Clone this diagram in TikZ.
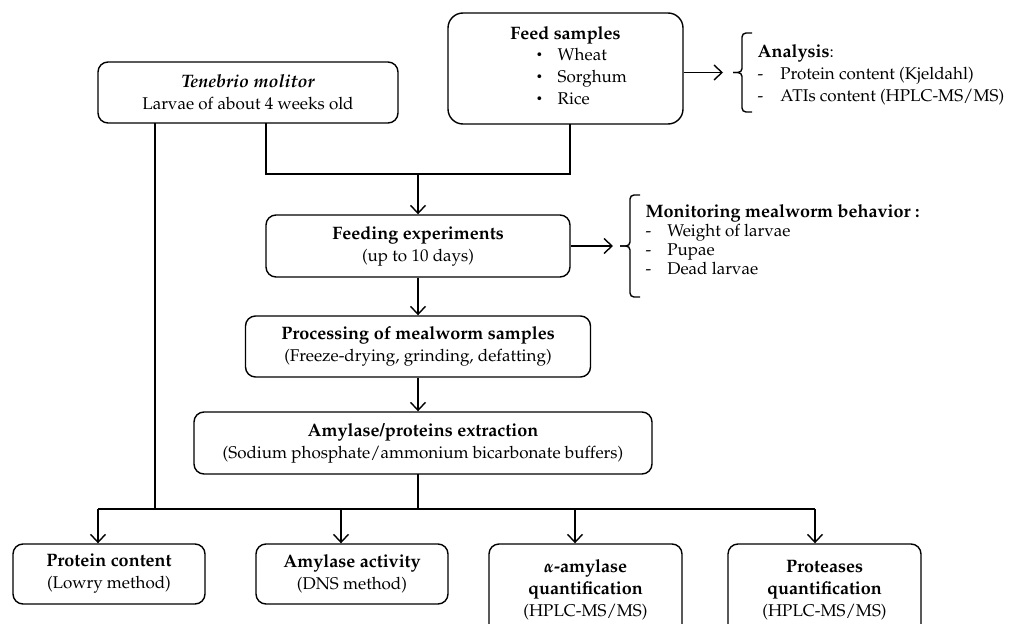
\documentclass[tikz,border=0pt]{standalone}
\usepackage[T1]{fontenc}
\usepackage{mathpazo}
\usetikzlibrary{arrows.meta}
\newcommand{\bx}[1]{{\bfseries\fontsize{18}{22}\selectfont #1}}
\newcommand{\smbul}{\raisebox{1.5pt}{\fontsize{11}{11}\selectfont\textbullet}}
\begin{document}
\begin{tikzpicture}[x=1pt,y=-1pt,
  font=\fontsize{17}{22}\selectfont,
  line width=1.4pt,
  box/.style={draw, rounded corners=10pt, align=center, inner sep=0pt},
  arr/.style={-{Straight Barb[length=8pt,width=15pt,line width=1.4pt]}},
  brk/.style={rounded corners=4pt}]
\useasboundingbox (0,0) rectangle (1016,623);

% boxes
\node[box, minimum width=300pt, minimum height=61pt] (ten) at (248,92.5)
  {\bx{\itshape Tenebrio molitor}\\Larvae of about 4 weeks old};
\node[box, rounded corners=15pt, minimum width=235pt, minimum height=111pt] (feed) at (565.5,68.5)
  {\bx{Feed samples}\\\hspace*{32pt}\begin{tabular}{@{}l@{\hspace{15pt}}l@{}}\smbul & Wheat\\ \smbul & Sorghum\\ \smbul & Rice\end{tabular}};
\node[box, minimum width=304pt, minimum height=62pt] (fexp) at (418,246)
  {\bx{Feeding experiments}\\(up to 10 days)};
\node[box, minimum width=345pt, minimum height=61pt] (proc) at (418,346.5)
  {\bx{Processing of mealworm samples}\\(Freeze-drying, grinding, defatting)};
\node[box, minimum width=458pt, minimum height=62pt] (extr) at (423,443)
  {\bx{Amylase/proteins extraction}\\(Sodium phosphate/ammonium bicarbonate buffers)};
\node[box, minimum width=192pt, minimum height=60pt] (prot) at (109,574)
  {\bx{Protein content}\\(Lowry method)};
\node[box, minimum width=192pt, minimum height=60pt] (amyl) at (352,574)
  {\bx{Amylase activity}\\(DNS method)};
\node[box, minimum width=193pt, minimum height=92pt] (alpha) at (585.5,590)
  {\bx{\boldmath$\alpha$-amylase}\\\bx{quantification}\\(HPLC-MS/MS)};
\node[box, minimum width=193pt, minimum height=92pt] (prts) at (824.5,590)
  {\bx{Proteases}\\\bx{quantification}\\(HPLC-MS/MS)};

% side notes
\node[anchor=west, inner sep=0pt] (ana) at (757,75)
  {\begin{tabular}{@{}l@{\hspace{17pt}}l@{}}\multicolumn{2}{@{}l}{\bx{Analysis}:}\\ -&Protein content (Kjeldahl)\\ -&ATIs content (HPLC-MS/MS)\end{tabular}};
\node[anchor=west, inner sep=0pt, font=\fontsize{17}{19}\selectfont] (mon) at (645,242.5)
  {\begin{tabular}{@{}l@{\hspace{16pt}}l@{}}\multicolumn{2}{@{}l}{{\bfseries\fontsize{18}{19}\selectfont Monitoring mealworm behavior :}}\\ -&Weight of larvae\\ -&Pupae\\ -&Dead larvae\end{tabular}};

% brackets
\coordinate (bA) at (733,72.5);
\coordinate (bM) at (620,246);
\draw[brk] (752,33) -- (742,33) -- (742,72.5) -- (bA);
\draw[brk] (752,112) -- (742,112) -- (742,72.5) -- (bA);
\draw[brk] (640,195) -- (630,195) -- (630,246) -- (bM);
\draw[brk] (640,297) -- (630,297) -- (630,246) -- (bM);

% connectors
\coordinate (tA) at (723,72.5);
\coordinate (tM) at (613,246);
\draw[arr] (feed.east |- tA) -- (tA);
\draw[arr] (fexp.east) -- (tM);

\coordinate (j0) at (418,174);
\draw (266,123) -- (266,174) -- (570,174) -- (570,124);
\draw[arr] (j0) -- (j0 |- fexp.north);
\draw[arr] (fexp.south) -- (fexp.south |- proc.north);
\draw[arr] (proc.south) -- (proc.south |- extr.north);

\coordinate (h1) at (98,509);
\coordinate (h2) at (341,509);
\coordinate (h3) at (575,509);
\coordinate (h4) at (815,509);
\draw (155,123) -- (155,509);
\draw (418,474) -- (418,509);
\draw (h1) -- (h4);
\draw[arr] (h1) -- (h1 |- prot.north);
\draw[arr] (h2) -- (h2 |- amyl.north);
\draw[arr] (h3) -- (h3 |- alpha.north);
\draw[arr] (h4) -- (h4 |- prts.north);
\end{tikzpicture}
\end{document}
